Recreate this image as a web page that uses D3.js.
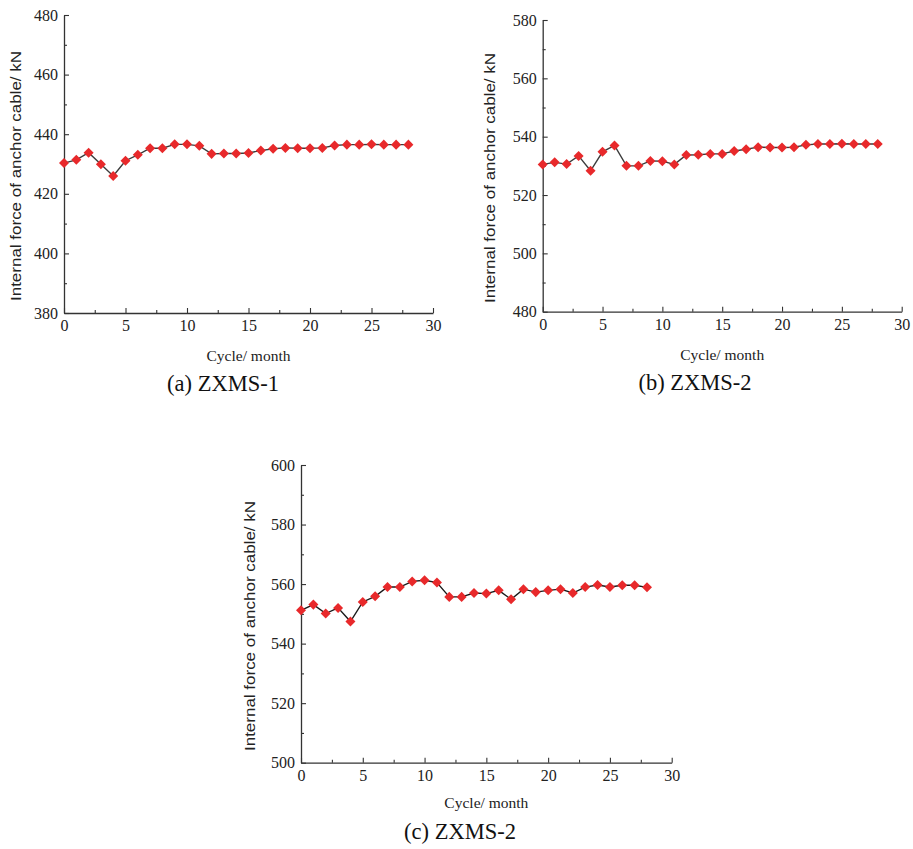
<!DOCTYPE html>
<html><head><meta charset="utf-8">
<script src="https://cdn.jsdelivr.net/npm/d3@7"></script>
<style>body{margin:0;background:#fff}svg{display:block}</style>
</head><body>
<svg id="c" width="913" height="849"></svg>
<script>
const months = [0,1,2,3,4,5,6,7,8,9,10,11,12,13,14,15,16,17,18,19,20,21,22,23,24,25,26,27,28];
const forceA = [430.3,431.4,433.8,429.9,426.0,431.1,433.1,435.3,435.3,436.6,436.6,436.1,433.4,433.5,433.5,433.7,434.5,435.1,435.4,435.3,435.3,435.4,436.2,436.5,436.5,436.6,436.5,436.5,436.5];
const forceB = [530.5,531.2,530.6,533.4,528.3,534.8,537.0,530.0,530.0,531.7,531.6,530.5,533.7,533.8,534.1,534.1,535.1,535.7,536.4,536.3,536.3,536.4,537.2,537.5,537.5,537.6,537.5,537.5,537.5];
const forceC = [551.2,553.1,550.1,552.0,547.4,554.0,555.9,559.0,559.0,560.9,561.3,560.5,555.7,555.7,557.0,556.8,557.9,554.9,558.3,557.3,557.9,558.3,557.0,559.0,559.7,559.0,559.6,559.6,558.9];
const xTicks = [0,5,10,15,20,25,30];
const xMinorTicks = [2.5,7.5,12.5,17.5,22.5,27.5];
const yTicksA = [380,400,420,440,460,480];
const yTicksB = [480,500,520,540,560,580];
const yTicksC = [500,520,540,560,580,600];
const yMinorA = [390,410,430,450,470];
const yMinorB = [490,510,530,550,570];
const yMinorC = [510,530,550,570,590];
const captions = ["(a) ZXMS-1","(b) ZXMS-2","(c) ZXMS-2"];
const xTitle = "Cycle/ month";
const yTitle = "Internal force of anchor cable/ kN";

const SERIF = "'Liberation Serif','Times New Roman',serif";
const svg = d3.select("#c");
const panels = [
  {values: forceA, yt: yTicksA, ym: yMinorA, cap: captions[0], x0: 64, x1: 433, yT: 15, yB: 313, titleX: 16, titleY: 176, cx: 223, xtY: 361, capY: 391, line: "#3c3c3c"},
  {values: forceB, yt: yTicksB, ym: yMinorB, cap: captions[1], x0: 542.7, x1: 901.7, yT: 20, yB: 311.7, titleX: 490, titleY: 178, cx: 695, xtY: 360, capY: 390, line: "#3c3c3c"},
  {values: forceC, yt: yTicksC, ym: yMinorC, cap: captions[2], x0: 301, x1: 671.7, yT: 465, yB: 762.7, titleX: 250, titleY: 626, cx: 460, xtY: 808, capY: 839, line: "#1a1a1a"}
];

panels.forEach(p => {
  const x = d3.scaleLinear().domain([xTicks[0], xTicks[xTicks.length-1]]).range([p.x0, p.x1]);
  const y = d3.scaleLinear().domain([p.yt[0], p.yt[p.yt.length-1]]).range([p.yB, p.yT]);
  const g = svg.append("g");

  g.append("g").attr("transform", `translate(0,${p.yB})`)
    .call(d3.axisBottom(x).tickValues(xMinorTicks).tickSize(-3).tickFormat(""))
    .call(s => s.select(".domain").remove());
  g.append("g").attr("transform", `translate(${p.x0},0)`)
    .call(d3.axisLeft(y).tickValues(p.ym).tickSize(-3).tickFormat(""))
    .call(s => s.select(".domain").remove());

  const xa = g.append("g").attr("transform", `translate(0,${p.yB})`)
    .call(d3.axisBottom(x).tickValues(xTicks).tickSizeInner(-5).tickSizeOuter(0).tickPadding(7));
  const ya = g.append("g").attr("transform", `translate(${p.x0},0)`)
    .call(d3.axisLeft(y).tickValues(p.yt).tickSizeInner(-5).tickSizeOuter(0).tickPadding(6));
  [xa, ya].forEach(a => {
    a.attr("font-family", null).attr("font-size", null);
    a.selectAll("text").style("font-family", SERIF).style("font-size", "16px").attr("fill", "#222");
  });
  g.selectAll(".domain").attr("stroke", "#333").attr("stroke-width", 1.3);
  g.selectAll(".tick line").attr("stroke", "#333").attr("stroke-width", 1.1);

  const pts = months.map((m, i) => [m, p.values[i]]);
  g.append("path").datum(pts)
    .attr("fill", "none").attr("stroke", p.line).attr("stroke-width", 1.4)
    .attr("d", d3.line().x(d => x(d[0])).y(d => y(d[1])));
  const sym = d3.symbol().type(d3.symbolDiamond2).size(64);
  g.selectAll("path.m").data(pts).join("path").attr("class", "m")
    .attr("transform", d => `translate(${x(d[0])},${y(d[1])})`)
    .attr("d", sym).attr("fill", "#e8292b");

  g.append("text").attr("x", (p.x0 + p.x1) / 2).attr("y", p.xtY)
    .attr("text-anchor", "middle").style("font-family", SERIF)
    .style("font-size", "15.5px").attr("fill", "#222").text(xTitle);
  g.append("text").attr("transform", `translate(${p.titleX},${p.titleY}) rotate(-90)`)
    .attr("text-anchor", "middle").attr("dy", "0.35em")
    .style("font-family", "'Liberation Sans',Arial,sans-serif").style("font-size", "14.5px")
    .attr("textLength", 250).attr("lengthAdjust", "spacingAndGlyphs")
    .attr("fill", "#222").text(yTitle);
  g.append("text").attr("x", p.cx).attr("y", p.capY)
    .attr("text-anchor", "middle").style("font-family", SERIF)
    .style("font-size", "22.5px").attr("fill", "#111").text(p.cap);
});
</script>
</body></html>
